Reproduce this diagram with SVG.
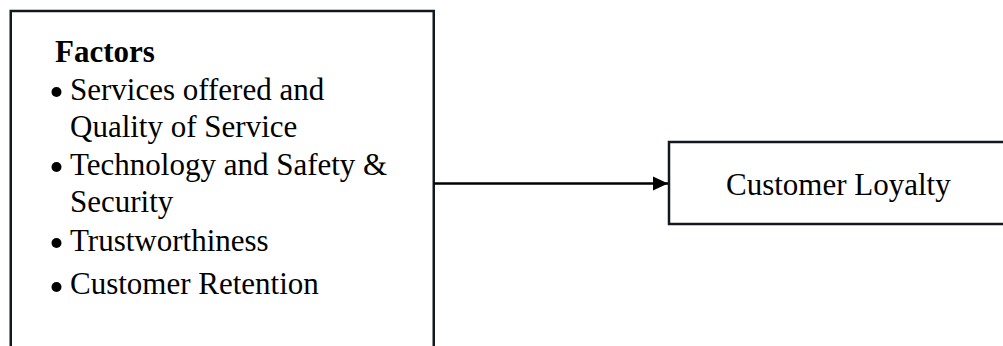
<svg xmlns="http://www.w3.org/2000/svg" width="1003" height="346" viewBox="0 0 1003 346">
<style>
.box{fill:#fff;stroke:#111820;stroke-width:2.5}
.t{font-family:"Liberation Serif","Times New Roman",serif;font-size:31px;fill:#000}
.b{font-weight:bold}
.dot{fill:#000}
.conn{stroke:#000;stroke-width:2.5;fill:none}
</style>
<defs>
<marker id="ah" markerWidth="15" markerHeight="15" refX="15" refY="7.5" orient="auto" markerUnits="userSpaceOnUse">
<path d="M0,0.5 L15,7.5 L0,14.5 Z" fill="#000"/>
</marker>
</defs>
<rect width="1003" height="346" fill="#fff"/>
<g id="factors">
<rect class="box" x="10.75" y="11" width="423" height="360"/>
<text class="t b" x="55" y="62">Factors</text>
<circle class="dot" cx="56.5" cy="92" r="5"/>
<text class="t" x="70" y="100">Services offered and</text>
<text class="t" x="70" y="137">Quality of Service</text>
<circle class="dot" cx="56.5" cy="167" r="5"/>
<text class="t" x="70" y="175">Technology and Safety &amp;</text>
<text class="t" x="70" y="212">Security</text>
<circle class="dot" cx="56.5" cy="243" r="5"/>
<text class="t" x="70" y="251">Trustworthiness</text>
<circle class="dot" cx="56.5" cy="287" r="5"/>
<text class="t" x="70" y="294">Customer Retention</text>
</g>
<g id="loyalty">
<rect class="box" x="669" y="142" width="350" height="82"/>
<text class="t" x="726" y="195">Customer Loyalty</text>
</g>
<g id="connectors">
<line class="conn" x1="434" y1="183.5" x2="668" y2="183.5" marker-end="url(#ah)"/>
</g>
</svg>
